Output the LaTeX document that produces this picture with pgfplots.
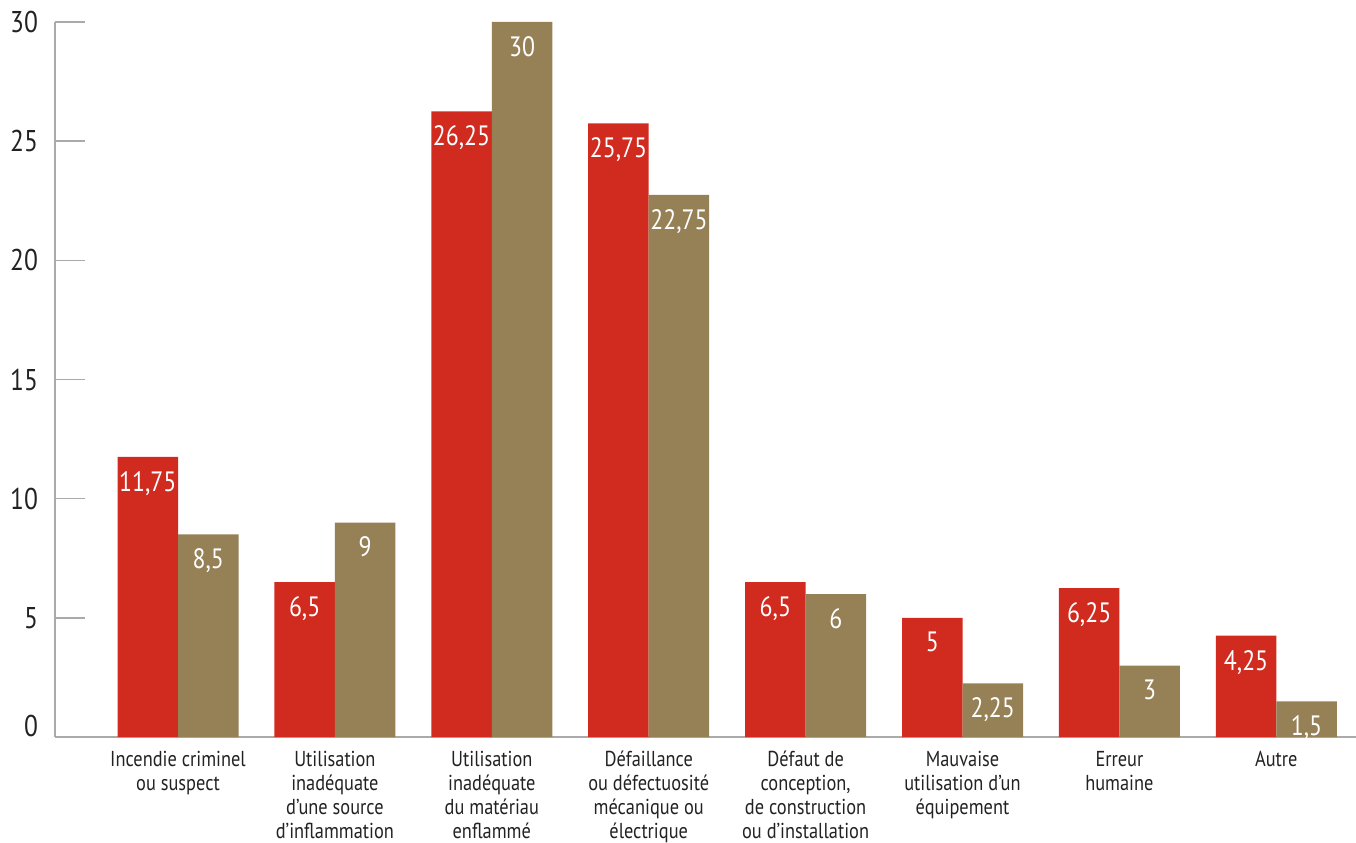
\documentclass[border=0pt]{standalone}
\usepackage{pgfplots}
\pgfplotsset{compat=1.18}
\usepackage{fontspec}
\setmainfont[FakeStretch=0.85]{PT Sans}
\definecolor{cred}{HTML}{D12A1F}
\definecolor{cbrown}{HTML}{968156}
\definecolor{cgrid}{HTML}{AAAAAA}
\definecolor{ctext}{HTML}{222222}
\begin{document}
\begin{tikzpicture}
\begin{axis}[
  scale only axis,
  width=650.5pt, height=357.5pt,
  ybar=0pt, bar width=30.25pt,
  xmin=-0.784, xmax=7.508,
  ymin=0, ymax=30,
  axis x line=bottom, axis y line=left,
  axis line style={draw=cgrid, line width=0.8pt, -},
  ytick={0,5,10,15,20,25,30},
  yticklabels={\raisebox{11pt}{0},5,10,15,20,25,30},
  tick align=inside,
  major tick length=15pt,
  ytick style={draw=cgrid, line width=0.8pt},
  xtick style={draw=none},
  yticklabel style={font=\fontsize{15}{17}\selectfont, text=ctext, xshift=-5pt},
  xtick={0,...,7},
  xticklabels={{Incendie criminel\\ou suspect},
    {Utilisation\\inadéquate\\d’une source\\d’inflammation},
    {Utilisation\\inadéquate\\du matériau\\enflammé},
    {Défaillance\\ou défectuosité\\mécanique ou\\électrique},
    {Défaut de\\conception,\\de construction\\ou d’installation},
    {Mauvaise\\utilisation d’un\\équipement},
    {Erreur\\humaine},
    {Autre}},
  xticklabel style={align=center, font=\fontsize{10.8}{12}\selectfont, text=ctext, anchor=north, yshift=-3.5pt},
  /pgf/number format/assume math mode=true,
  /pgf/number format/use comma,
  nodes near coords,
  every node near coord/.append style={anchor=north, inner sep=0pt, yshift=-7pt, text=white, font=\fontsize{14}{16}\selectfont},
  enlargelimits=false,
  clip=false,
]
\addplot[fill=cred, draw=none] coordinates {(0,11.75) (1,6.5) (2,26.25) (3,25.75) (4,6.5) (5,5) (6,6.25) (7,4.25)};
\addplot[fill=cbrown, draw=none] coordinates {(0,8.5) (1,9) (2,30) (3,22.75) (4,6) (5,2.25) (6,3) (7,1.5)};
\coordinate (bl) at (rel axis cs:0,0);
\coordinate (tr) at (rel axis cs:1,1);
\end{axis}
\pgfresetboundingbox
\path ([shift={(-27.5pt,-52.5pt)}]bl) rectangle ([shift={(0pt,11pt)}]tr);
\end{tikzpicture}
\end{document}
